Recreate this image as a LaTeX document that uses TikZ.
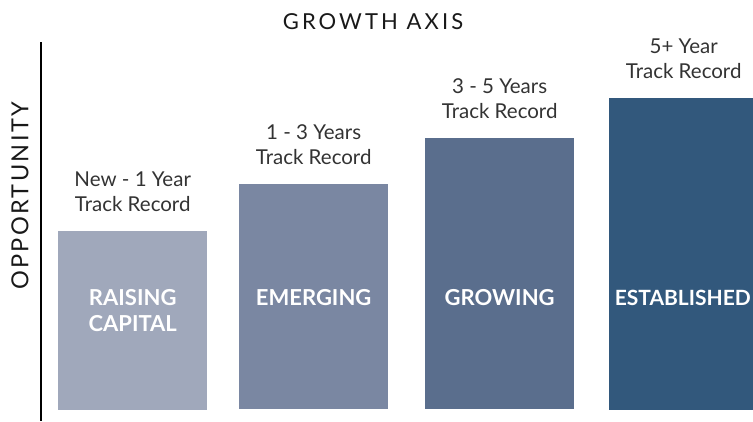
\documentclass[tikz,border=0pt]{standalone}
\usepackage{fontspec}
\setmainfont{Lato}
\usepackage{tikz}
\usetikzlibrary{positioning}
\definecolor{StageOne}{HTML}{A0A8BB}
\definecolor{StageTwo}{HTML}{7A87A2}
\definecolor{StageThree}{HTML}{5A6E8D}
\definecolor{StageFour}{HTML}{32587C}
\definecolor{TextGrey}{HTML}{333333}

\begin{document}
\begin{tikzpicture}[x=1pt, y=-1pt,
    bar/.style={rectangle, inner sep=0pt, minimum width=149pt, anchor=north west},
    stage/.style={align=center, inner sep=0pt, anchor=north, text=white,
                  font=\fontsize{22}{26}\selectfont\bfseries},
    record/.style={align=center, inner sep=0pt, text=TextGrey,
                   font=\fontsize{20.5}{25}\selectfont},
    axislabel/.style={inner sep=0pt, text=black!90,
                      font=\fontsize{22}{26}\selectfont\addfontfeature{LetterSpace=14}}
  ]
  \useasboundingbox (0,0) rectangle (753,421);
  \clip (0,0) rectangle (753,421);

  % bars, growing left to right
  \node[bar, fill=StageOne, minimum height=179pt] (raising) at (58,231) {};
  \node[bar, fill=StageTwo, minimum height=225pt] (emerging) at (239,184) {};
  \node[bar, fill=StageThree, minimum height=271pt] (growing) at (425,138) {};
  \node[bar, fill=StageFour, minimum height=312pt] (established) at (609,98) {};

  % stage names inside the bars
  \node[stage] (raisingname) at (raising.center |- 0,289) {RAISING\\CAPITAL};
  \node[stage] (emergingname) at (emerging.center |- 0,289) {EMERGING};
  \node[stage] (growingname) at (growing.center |- 0,289) {GROWING};
  \node[stage, anchor=north east, font=\fontsize{21}{26}\selectfont\bfseries]
       (establishedname) at (751,289.5) {ESTABLISHED};

  % track record above each bar
  \node[record, above=19pt of raising] (raisingyrs) {New - 1 Year\\Track Record};
  \node[record, above=19pt of emerging] (emergingyrs) {1 - 3 Years\\Track Record};
  \node[record, above=19pt of growing] (growingyrs) {3 - 5 Years\\Track Record};
  \node[record, above=19pt of established] (establishedyrs) {5+ Year\\Track Record};

  % axes
  \coordinate (axtop) at (41,42);
  \coordinate (axbot) at (41,421);
  \draw[line width=1.8pt] (axtop) -- (axbot);
  \node[axislabel] (growth) at (373,22) {GROWTH AXIS};
  \node[axislabel, font=\fontsize{23.5}{26}\selectfont\addfontfeature{LetterSpace=10},
        rotate=90] (opportunity) at (20,196) {OPPORTUNITY};
\end{tikzpicture}
\end{document}
